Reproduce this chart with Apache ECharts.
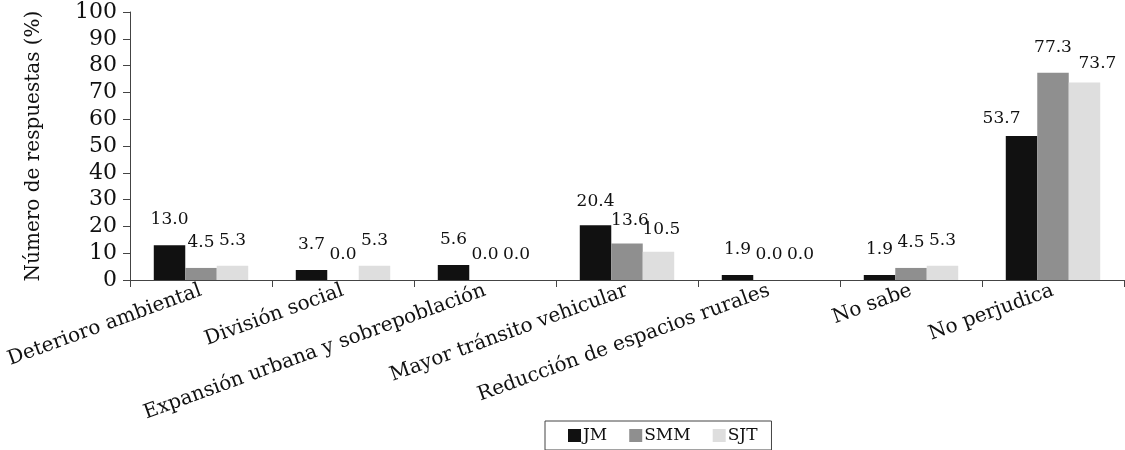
<!DOCTYPE html>
<html>
<head>
<meta charset="utf-8">
<script src="https://cdn.jsdelivr.net/npm/echarts@6/dist/echarts.min.js"></script>
<style>
  html, body { margin: 0; padding: 0; background: #fff; }
  #chart { width: 1125px; height: 450px; }
</style>
</head>
<body>
<div id="chart"></div>
<script>
// Categorías de perjuicio y porcentaje de respuestas por localidad
const categories = [
  'Deterioro ambiental',
  'División social',
  'Expansión urbana y sobrepoblación',
  'Mayor tránsito vehicular',
  'Reducción de espacios rurales',
  'No sabe',
  'No perjudica'
];
const jm  = [13.0, 3.7, 5.6, 20.4, 1.9, 1.9, 53.7];
const smm = [4.5, 0.0, 0.0, 13.6, 0.0, 4.5, 77.3];
const sjt = [5.3, 5.3, 0.0, 10.5, 0.0, 5.3, 73.7];
const yTicks = { min: 0, max: 100, interval: 10 };

const FONT = 'DejaVu Serif';
const TEXT = '#111';

// Desplazamientos manuales de algunas etiquetas para evitar solapes
const labelNudges = {
  JM:  { 3: [0, 2], 6: [-20, 8] },
  SMM: { 3: [3, 3] },
  SJT: { 3: [3, 3], 6: [13, 7] }
};

function barSeries(name, values, color) {
  const nudges = labelNudges[name] || {};
  return {
    name: name,
    type: 'bar',
    data: values.map((v, i) => nudges[i]
      ? { value: v, label: { offset: nudges[i] } }
      : v),
    barGap: '0%',
    barCategoryGap: '33.5%',
    itemStyle: { color: color },
    label: {
      show: true,
      position: 'top',
      distance: 17,
      formatter: p => Number(p.value).toFixed(1),
      fontFamily: FONT,
      fontSize: 17,
      color: TEXT
    }
  };
}

const chart = echarts.init(document.getElementById('chart'), null, { renderer: 'canvas' });
chart.setOption({
  animation: false,
  backgroundColor: '#fff',
  textStyle: { fontFamily: FONT, color: TEXT },
  grid: { left: 130, right: 1, top: 12, bottom: 170, containLabel: false },
  legend: {
    data: ['JM', 'SMM', 'SJT'],
    left: 545,
    top: 421,
    orient: 'horizontal',
    icon: 'rect',
    itemWidth: 13,
    itemHeight: 13,
    itemGap: 22,
    padding: [6, 14, 6, 23],
    borderColor: '#444',
    borderWidth: 1,
    textStyle: { fontFamily: FONT, fontSize: 17, color: TEXT, padding: [0, 0, 0, -3] }
  },
  xAxis: {
    type: 'category',
    data: categories,
    axisLine: { lineStyle: { color: '#444', width: 1 } },
    axisTick: { show: true, length: 7, lineStyle: { color: '#444' } },
    axisLabel: {
      interval: 0,
      rotate: 20,
      margin: 10,
      fontFamily: FONT,
      fontSize: 20,
      color: TEXT
    }
  },
  yAxis: {
    type: 'value',
    min: yTicks.min,
    max: yTicks.max,
    interval: yTicks.interval,
    name: 'Número de respuestas (%)',
    nameLocation: 'middle',
    nameGap: 86,
    nameTextStyle: { fontFamily: FONT, fontSize: 20, color: TEXT },
    axisLine: { show: true, lineStyle: { color: '#444', width: 1 } },
    axisTick: { show: true, length: 7, lineStyle: { color: '#444' } },
    splitLine: { show: false },
    axisLabel: { margin: 13, fontFamily: FONT, fontSize: 22, color: TEXT }
  },
  series: [
    barSeries('JM', jm, '#111111'),
    barSeries('SMM', smm, '#8f8f8f'),
    barSeries('SJT', sjt, '#dedede')
  ]
});
</script>
</body>
</html>
